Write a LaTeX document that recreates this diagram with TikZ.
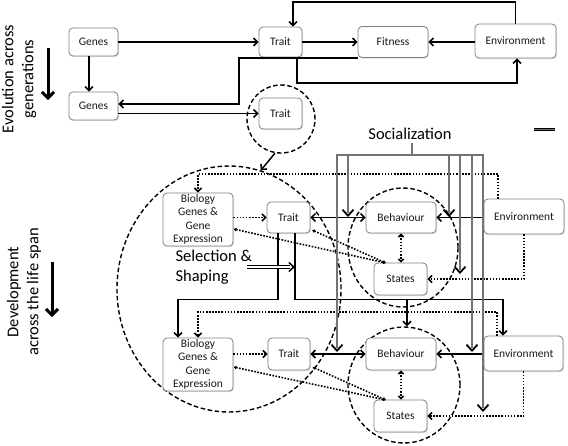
\documentclass[tikz,border=0pt]{standalone}
\usepackage{fontspec}
\setmainfont{Carlito}
\usetikzlibrary{arrows.meta,shapes.geometric,shadows}
\begin{document}
\begin{tikzpicture}[x=1pt,y=-1pt,
 box/.style={draw=black!50, fill=white, rounded corners=4pt, line width=0.8pt, inner sep=0pt, align=center, text=black!90, font=\fontsize{11.5}{13.3}\selectfont, drop shadow={shadow xshift=1pt,shadow yshift=-1.2pt,opacity=0.25}},
 conn/.style={line width=1.5pt, -{Straight Barb[length=4pt,width=8pt]}},
 dbl/.style={line width=1.5pt, {Straight Barb[length=4pt,width=8pt]}-{Straight Barb[length=4pt,width=8pt]}},
 dots/.style={line width=1.6pt, dash pattern=on 1.6pt off 1.5pt},
 dotarr/.style={dots, -{Straight Barb[length=3.5pt,width=7pt]}},
 dotdot/.style={dots, {Latex[length=3pt,width=4pt]}-{Latex[length=3pt,width=4pt]}},
 dotvv/.style={dots, {Straight Barb[length=2.5pt,width=5pt]}-{Straight Barb[length=2.5pt,width=5pt]}},
 ring/.style={draw, ellipse, line width=1.4pt, dash pattern=on 4.5pt off 2.6pt, inner sep=0pt},
 socline/.style={draw=black, line width=0.8pt, double=black!55, double distance=1.2pt},
 soctip/.style={line width=1.8pt, draw=black, -{Straight Barb[length=6pt,width=11pt]}},
 ssline/.style={draw=black, line width=0.8pt, double=white, double distance=2.2pt},
 sstip/.style={line width=1.5pt, -{Straight Barb[length=5pt,width=9pt]}},
 bigarrow/.style={line width=3pt, -{Straight Barb[length=6pt,width=12pt]}},
 big/.style={font=\fontsize{16.5}{20}\selectfont, text=black},
]
\useasboundingbox (0,0) rectangle (568,445);

% rings
\node[ring, minimum width=68pt, minimum height=68pt] (t2c) at (281,119) {};
\node[ring, minimum width=224pt, minimum height=246pt] (bigc) at (229,289) {};
\node[ring, minimum width=110pt, minimum height=119pt] (c2) at (403,247.5) {};
\node[ring, minimum width=112pt, minimum height=116pt] (c3) at (404,385) {};

% boxes top
\node[box, minimum width=49pt, minimum height=28pt] (g1) at (93.5,42) {Genes};
\node[box, minimum width=49pt, minimum height=28pt] (g2) at (93.5,106) {Genes};
\node[box, minimum width=43pt, minimum height=30pt] (t1) at (280.5,42) {Trait};
\node[box, minimum width=43pt, minimum height=31pt] (t2) at (280.5,113.5) {Trait};
\node[box, minimum width=70pt, minimum height=31pt] (fit) at (393,42) {Fitness};
\node[box, minimum width=81pt, minimum height=34pt] (env1) at (515.5,41) {Environment};

% boxes development
\node[box, minimum width=70pt, minimum height=53pt] (bio1) at (198,219.5) {Biology\\Genes \&\\Gene\\Expression};
\node[box, minimum width=43pt, minimum height=31pt] (t3) at (288.5,217.5) {Trait};
\node[box, minimum width=70pt, minimum height=31pt] (b1) at (401,217.5) {Behaviour};
\node[box, minimum width=53pt, minimum height=32pt] (s1) at (400.5,279) {States};
\node[box, minimum width=80pt, minimum height=35pt] (env2) at (524,216.5) {Environment};

\node[box, minimum width=70pt, minimum height=53pt] (bio2) at (198,364.5) {Biology\\Genes \&\\Gene\\Expression};
\node[box, minimum width=42pt, minimum height=32pt] (t4) at (289,354) {Trait};
\node[box, minimum width=70pt, minimum height=32pt] (b2) at (401,354) {Behaviour};
\node[box, minimum width=53pt, minimum height=32pt] (s2) at (400.5,416) {States};
\node[box, minimum width=79pt, minimum height=35pt] (env3) at (523.5,353.5) {Environment};

% labels
\node[big, rotate=90, align=center] (evo) at (19,79) {Evolution across\\generations};
\node[big, rotate=90, align=center] (dev) at (24,292) {Development\\across the life span};
\node[big] (soc) at (410,134) {Socialization};
\node[big, anchor=west, align=left] (sel) at (172,267) {Selection \&\\Shaping};

\coordinate (ea1) at (48,48); \coordinate (ea2) at (48,100);
\draw[bigarrow] (ea1) -- (ea2);
\coordinate (da1) at (52,262); \coordinate (da2) at (52,317);
\draw[bigarrow] (da1) -- (da2);

% top connectors
\draw[conn] (g1.east) -- (t1.west);
\draw[conn] ([xshift=-4.5pt]g1.south) -- ([xshift=-4.5pt]g2.north);
\draw[conn] (t1.east) -- (fit.west);
\draw[conn] (env1.west |- fit.east) -- (fit.east);
\coordinate (top) at (293,2);
\draw[conn] (env1.north) |- (top) -- (top |- t1.north);
\coordinate (fb) at (239,57.5);
\coordinate (fb2) at (239,104);
\draw[conn] (fit.south west) -- (fit.south west -| fb) -- (fb2) -- (fb2 -| g2.east);
\draw[conn] (g2.east |- t2.west) -- (t2.west);
\coordinate (tb) at (297,83);
\draw[conn] (tb |- t1.south) -- (tb) -| ([xshift=1.5pt]env1.south);
\draw[conn] (t2c.260) -- (bigc.75);

% development top
\coordinate (dA) at (498,174);
\draw[dotarr] (dA |- env2.north) -- (dA) -| (bio1.north);
\draw[dotarr] (bio1.east |- t3.west) -- (t3.west);
\coordinate (s1j) at (386,263);
\draw[dotdot] ([yshift=-9.5pt]bio1.east) -- (s1j);
\draw[dotdot] ([xshift=1.5pt,yshift=-12.5pt]t3.east) -- (s1j);
\draw[dotvv] (b1.south) -- (b1.south |- s1.north);
\draw[dotarr] (env2.south) |- (s1.east);
\draw[dbl] (t3.east) -- (b1.west);
\draw[conn] (env2.west |- b1.east) -- (b1.east);

\coordinate (hA) at (278,299.5); \coordinate (hB) at (178,299.5);
\draw[conn] (hA |- t3.south) -- (hA) -- (hB) -- (hB |- bio2.north);
\coordinate (iA) at (295,299.5); \coordinate (iB) at (503,299.5);
\draw[conn] (iA |- t3.south) -- (iA) -- (iB) -- (iB |- env3.north);
\coordinate (jA) at (407,299.5);
\draw[conn] (jA) -- (jA |- c3.north);

\coordinate (ss) at (247,267);
\draw[ssline] (ss) -- ([xshift=-5pt]ss -| iA);
\draw[sstip] ([xshift=-3pt]ss -| iA) -- (ss -| iA);

% development bottom
\coordinate (kA) at (497,312);
\draw[dotarr] (kA |- env3.north) -- (kA) -| (bio2.north);
\draw[dotarr] (bio2.east |- t4.west) -- (t4.west);
\coordinate (s2j) at (386,400);
\draw[dotdot] ([yshift=-2.5pt]bio2.east) -- (s2j);
\draw[dotdot] ([xshift=2pt,yshift=-13pt]t4.east) -- (s2j);
\draw[dotvv] (b2.south) -- (b2.south |- s2.north);
\draw[dotarr] (env3.south) |- (s2.east);
\draw[dbl] (t4.east) -- (b2.west);
\draw[conn] (env3.west |- b2.east) -- (b2.east);

% socialization
\coordinate (sj) at (412,155);
\coordinate (sL) at (337,155);
\coordinate (sR) at (483,155);
\coordinate (e1) at (337,352);
\coordinate (e2) at (348,217);
\coordinate (e3) at (449,217);
\coordinate (e4) at (460,274);
\coordinate (e5) at (472,352);
\coordinate (e6) at (483,412);
\draw[socline] (soc.south -| sj) -- (sj)
  ([yshift=4pt]e1) -- (sL) -- (sR) -- ([yshift=4pt]e6)
  (e2 |- sj) -- ([yshift=4pt]e2)
  (e3 |- sj) -- ([yshift=4pt]e3)
  (e4 |- sj) -- ([yshift=4pt]e4)
  (e5 |- sj) -- ([yshift=4pt]e5);
\foreach \p in {e1,e2,e3,e4,e5,e6} \draw[soctip] ([yshift=2pt]\p) -- (\p);

\coordinate (lg1) at (534,129.5); \coordinate (lg2) at (555,129.5);
\draw[socline] (lg1) -- (lg2);
\end{tikzpicture}
\end{document}
